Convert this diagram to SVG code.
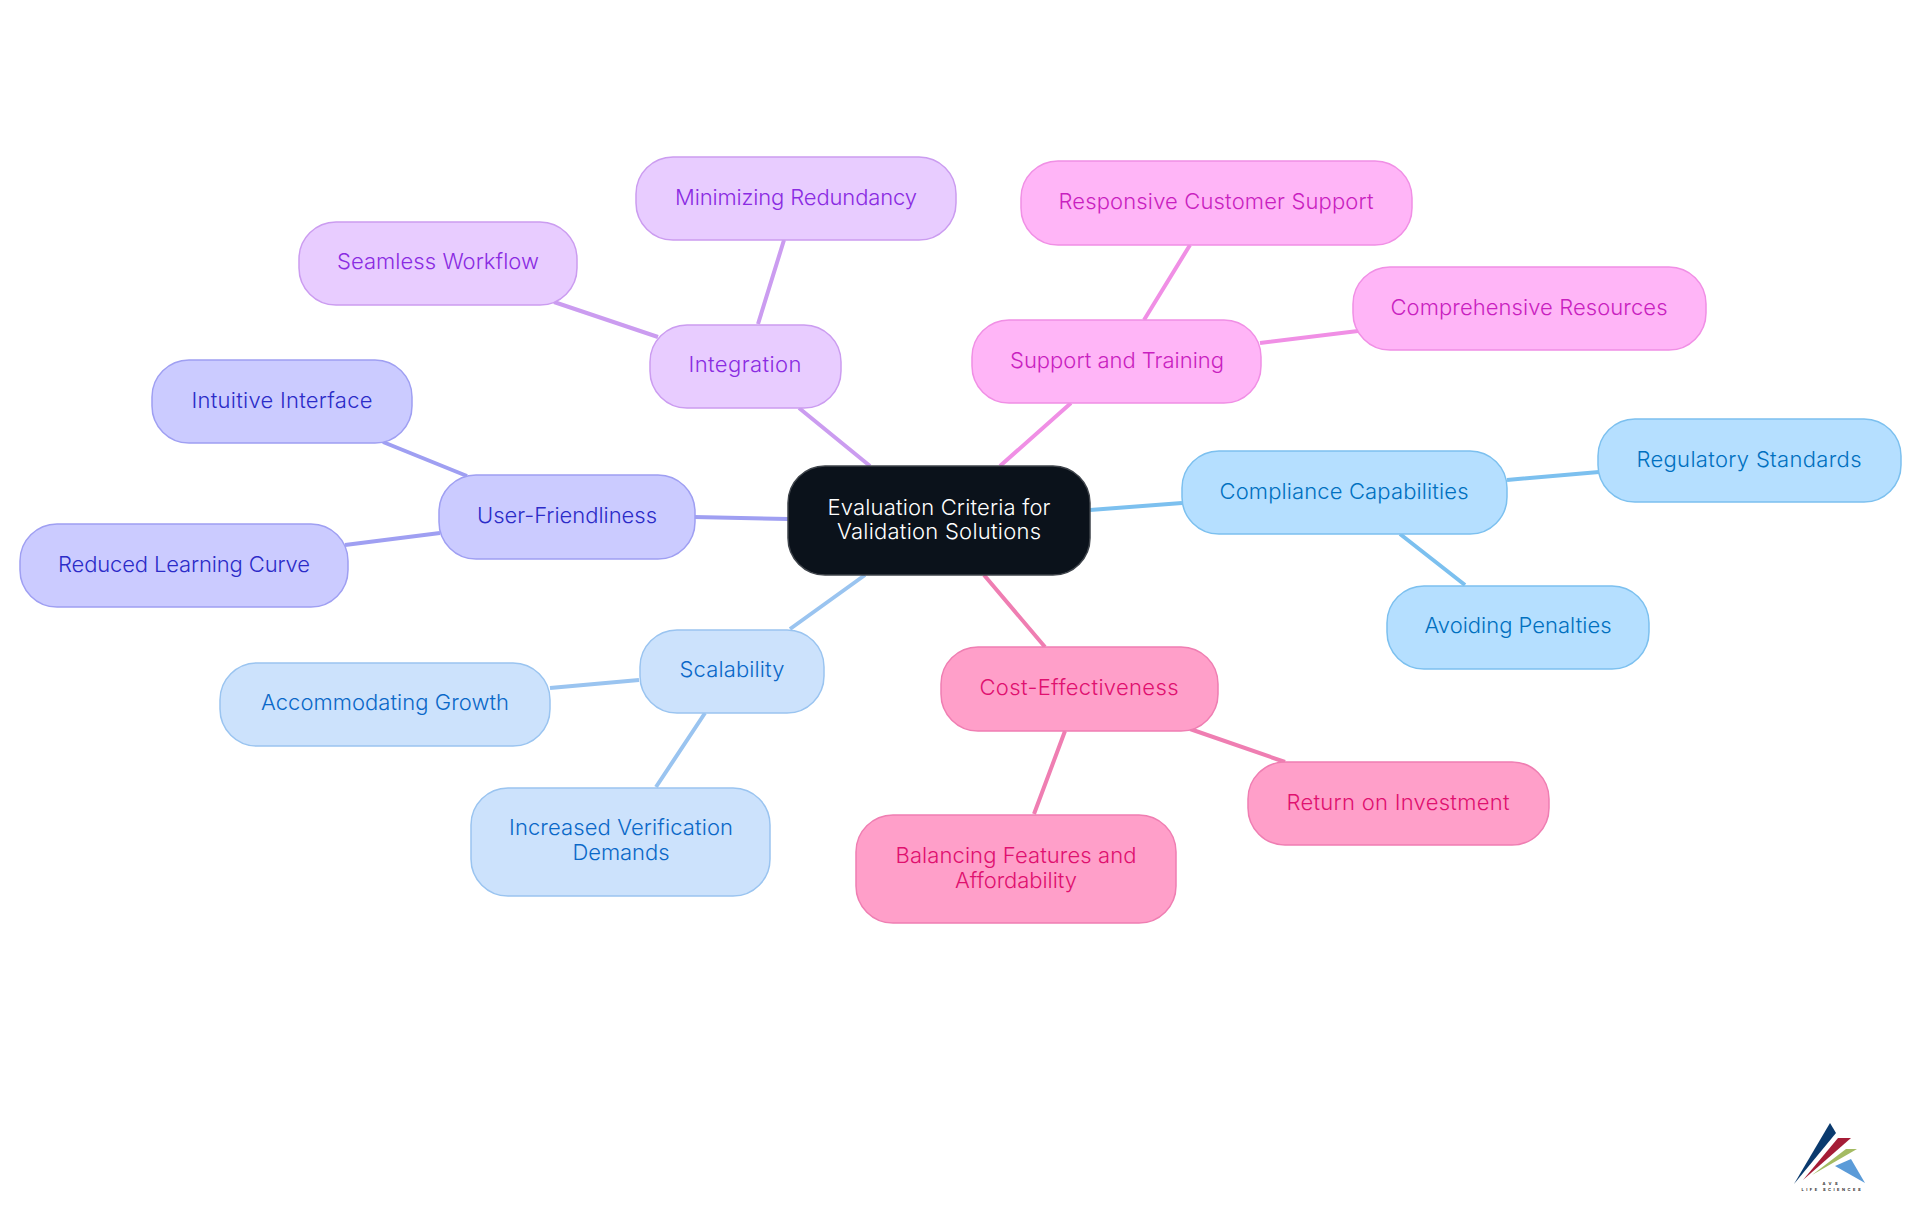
<svg xmlns="http://www.w3.org/2000/svg" width="1920" height="1215" viewBox="0 0 1920 1215">
<style>
text{font-family:"Inter","Noto Sans","Liberation Sans",sans-serif;font-size:22px;text-anchor:middle;font-weight:300}
rect{stroke-width:1.5}
.l{fill:none;stroke-width:4}
.c0 rect{fill:#0b121b;stroke:#3f444b}.t0{fill:#fff}
.c1 rect{fill:#b5dfff;stroke:#7cc0ef}.t1{fill:#0070c0}
.c2 rect{fill:#ff9fc9;stroke:#ef7eb2}.t2{fill:#e0106f}
.c3 rect{fill:#cce2fc;stroke:#9ac4f0}.t3{fill:#0a68c8}
.c4 rect{fill:#cbcbff;stroke:#9f9ff2}.t4{fill:#2b2bc8}
.c5 rect{fill:#e8ccff;stroke:#cb9cf0}.t5{fill:#8a2be2}
.c6 rect{fill:#ffb5f7;stroke:#f08fe5}.t6{fill:#c91fc0}
.lg{font-size:4px;font-weight:700;fill:#333}
</style>
<g id="connectors">
<path class="l" stroke="#7cc0ef" d="M1090 510L1182 503M1507 480L1599 472M1400 534L1465 585"/>
<path class="l" stroke="#ef7eb2" d="M984 575L1045 647M1065 731L1034 814M1190 729L1285 762"/>
<path class="l" stroke="#9ac4f0" d="M865 575L790 629M639 680L550 688M705 713L656 787"/>
<path class="l" stroke="#9f9ff2" d="M788 519L694 517M467 476L383 442M440 533L345 545"/>
<path class="l" stroke="#cb9cf0" d="M870 466L799 408M658 337L554 302M758 324L784 240"/>
<path class="l" stroke="#f08fe5" d="M1000 466L1071 403M1144 320L1190 245M1260 343L1358 331"/>
</g>
<g id="center" class="c0"><rect x="788" y="466" width="302" height="109" rx="37"/><text class="t0" x="939" y="515" textLength="223">Evaluation Criteria for</text><text class="t0" x="939" y="539" textLength="204">Validation Solutions</text></g>
<g id="compliance" class="c1"><rect x="1182" y="451" width="325" height="83" rx="37"/><text class="t1" x="1344" y="499" textLength="249">Compliance Capabilities</text></g>
<g id="regulatory" class="c1"><rect x="1598" y="419" width="303" height="83" rx="37"/><text class="t1" x="1749" y="467" textLength="225">Regulatory Standards</text></g>
<g id="penalties" class="c1"><rect x="1387" y="586" width="262" height="83" rx="37"/><text class="t1" x="1518" y="633" textLength="187">Avoiding Penalties</text></g>
<g id="cost" class="c2"><rect x="941" y="647" width="277" height="84" rx="37"/><text class="t2" x="1079" y="695" textLength="199">Cost-Effectiveness</text></g>
<g id="roi" class="c2"><rect x="1248" y="762" width="301" height="83" rx="37"/><text class="t2" x="1398" y="810" textLength="223">Return on Investment</text></g>
<g id="balancing" class="c2"><rect x="856" y="815" width="320" height="108" rx="37"/><text class="t2" x="1016" y="863" textLength="241">Balancing Features and</text><text class="t2" x="1016" y="888" textLength="122">Affordability</text></g>
<g id="scalability" class="c3"><rect x="640" y="630" width="184" height="83" rx="37"/><text class="t3" x="732" y="677" textLength="105">Scalability</text></g>
<g id="growth" class="c3"><rect x="220" y="663" width="330" height="83" rx="37"/><text class="t3" x="385" y="710" textLength="248">Accommodating Growth</text></g>
<g id="demands" class="c3"><rect x="471" y="788" width="299" height="108" rx="37"/><text class="t3" x="621" y="835" textLength="224">Increased Verification</text><text class="t3" x="621" y="860" textLength="97">Demands</text></g>
<g id="user" class="c4"><rect x="439" y="475" width="256" height="84" rx="37"/><text class="t4" x="567" y="523" textLength="180">User-Friendliness</text></g>
<g id="intuitive" class="c4"><rect x="152" y="360" width="260" height="83" rx="37"/><text class="t4" x="282" y="408" textLength="181">Intuitive Interface</text></g>
<g id="reduced" class="c4"><rect x="20" y="524" width="328" height="83" rx="37"/><text class="t4" x="184" y="572" textLength="252">Reduced Learning Curve</text></g>
<g id="integration" class="c5"><rect x="650" y="325" width="191" height="83" rx="37"/><text class="t5" x="745" y="372" textLength="113">Integration</text></g>
<g id="seamless" class="c5"><rect x="299" y="222" width="278" height="83" rx="37"/><text class="t5" x="438" y="269" textLength="202">Seamless Workflow</text></g>
<g id="redundancy" class="c5"><rect x="636" y="157" width="320" height="83" rx="37"/><text class="t5" x="796" y="205" textLength="242">Minimizing Redundancy</text></g>
<g id="support" class="c6"><rect x="972" y="320" width="289" height="83" rx="37"/><text class="t6" x="1117" y="368" textLength="214">Support and Training</text></g>
<g id="responsive" class="c6"><rect x="1021" y="161" width="391" height="84" rx="37"/><text class="t6" x="1216" y="209" textLength="315">Responsive Customer Support</text></g>
<g id="resources" class="c6"><rect x="1353" y="267" width="353" height="83" rx="37"/><text class="t6" x="1529" y="315" textLength="277">Comprehensive Resources</text></g>
<g id="logo">
<polygon points="1794,1184 1830,1123 1836,1133" fill="#0a3a6e"/>
<polygon points="1803,1180 1838,1138 1851,1138" fill="#a51c36"/>
<polygon points="1812,1175 1846,1149 1857,1149" fill="#a4bb62"/>
<polygon points="1835,1166 1851,1159 1865,1183" fill="#5b9bd8"/>
<text class="lg" x="1830" y="1185" textLength="15">AVS</text>
<text class="lg" x="1831" y="1191" textLength="59">LIFE SCIENCES</text>
</g>
</svg>
